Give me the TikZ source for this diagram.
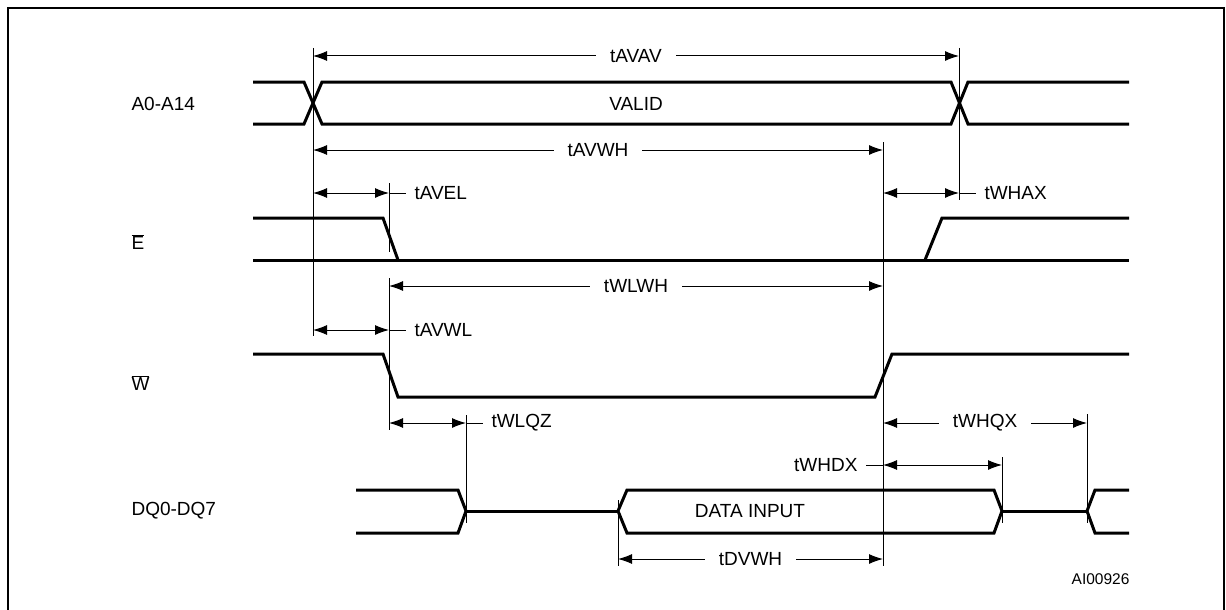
\documentclass[tikz,border=0pt]{standalone}
\usepackage{fontspec}
\setmainfont{Liberation Sans}
\usepackage{tikz}
\usetikzlibrary{arrows.meta}

\begin{document}
\begin{tikzpicture}[x=1pt,y=-1pt,>={Latex[length=14pt,width=10pt]},
                    font=\fontsize{19}{23}\selectfont,
                    sig/.style={line width=3pt},
                    guide/.style={line width=1pt},
                    dim/.style={<->,line width=1pt},
                    lbl/.style={fill=white,inner xsep=14pt,inner ysep=1pt},
                    side/.style={inner xsep=8pt}]

      \useasboundingbox (0,0) rectangle (1226,610);
      \draw[line width=2.5pt] (8,625) -- (8,8) -- (1224,8) -- (1224,625);

      % timing points
      \coordinate (av1) at (313,0);
      \coordinate (av2) at (959,0);
      \coordinate (el) at (389,0);
      \coordinate (wh) at (883,0);
      \coordinate (qz) at (466,0);
      \coordinate (dv) at (618,0);
      \coordinate (dx) at (1002,0);
      \coordinate (qx) at (1087,0);

      % rows of the dimension arrows
      \coordinate (r1) at (0,56);
      \coordinate (r2) at (0,150);
      \coordinate (r3) at (0,193);
      \coordinate (r4) at (0,286);
      \coordinate (r5) at (0,330);
      \coordinate (r6) at (0,423);
      \coordinate (r7) at (0,465);
      \coordinate (r8) at (0,559);

      % guide lines
      \draw[guide] (av1 |- 0,48) -- (av1 |- 0,336);
      \draw[guide] (av2 |- 0,48) -- (av2 |- 0,200);
      \draw[guide] (el |- 0,183) -- (el |- 0,252);
      \draw[guide] (el |- 0,278) -- (el |- 0,430);
      \draw[guide] (wh |- 0,142) -- (wh |- 0,566);
      \draw[guide] (qz |- 0,415) -- (qz |- 0,523);
      \draw[guide] (dx |- 0,457) -- (dx |- 0,523);
      \draw[guide] (qx |- 0,414) -- (qx |- 0,523);
      \draw[guide] (dv |- 0,500) -- (dv |- 0,566);

      % signal names
      \node[anchor=west] (a) at (128,104) {A0-A14};
      \node[anchor=west] (e) at (128,242) {$\overline{\mbox{E}}$};
      \node[anchor=west] (w) at (128,383) {$\overline{\mbox{W}}$};
      \node[anchor=west] (dq) at (128,511) {DQ0-DQ7};

      % waveforms
      \draw[sig] (253,82) -- (304,82) -- (322,124) -- (951,124) -- (968,82) -- (1129,82);
      \draw[sig] (253,124) -- (304,124) -- (322,82) -- (951,82) -- (968,124) -- (1129,124);
      \draw[sig] (253,218) -- (383,218) -- (398,260);
      \draw[sig] (253,260) -- (1129,260);
      \draw[sig] (925,260) -- (942,218) -- (1129,218);
      \draw[sig] (253,354) -- (383,354) -- (398,397) -- (875,397) -- (892,354) -- (1129,354);
      \draw[sig] (356,490) -- (458,490) -- (466,511) -- (458,533) -- (356,533);
      \draw[sig] (466,511) -- (618,511);
      \draw[sig] (618,511) -- (627,490) -- (994,490) -- (1002,511)
                 -- (994,533) -- (627,533) -- cycle;
      \draw[sig] (1002,511) -- (1087,511);
      \draw[sig] (1129,490) -- (1095,490) -- (1087,511) -- (1095,533) -- (1129,533);

      \node (valid) at (636,104) {VALID};
      \node[fill=white,inner ysep=1pt] (din) at (750,511) {DATA INPUT};

      % timings
      \draw[dim] (av1 |- r1) -- node[lbl] (tavav) {tAVAV} (av2 |- r1);
      \draw[dim] (av1 |- r2) -- node[lbl] (tavwh) {tAVWH} (wh |- r2);
      \draw[dim] (av1 |- r3) -- (el |- r3);
      \draw[guide] (el |- r3) -- ++(17,0) node[side,anchor=west] (tavel) {tAVEL};
      \draw[dim] (wh |- r3) -- (av2 |- r3);
      \draw[guide] (av2 |- r3) -- ++(17,0) node[side,anchor=west] (twhax) {tWHAX};
      \draw[dim] (el |- r4) -- node[lbl] (twlwh) {tWLWH} (wh |- r4);
      \draw[dim] (av1 |- r5) -- (el |- r5);
      \draw[guide] (el |- r5) -- ++(17,0) node[side,anchor=west] (tavwl) {tAVWL};
      \draw[dim] (el |- r6) -- (qz |- r6);
      \draw[guide] (qz |- r6) -- ++(17,0) node[side,anchor=west] (twlqz) {tWLQZ};
      \draw[dim] (wh |- r6) -- node[lbl] (twhqx) {tWHQX} (qx |- r6);
      \draw[dim] (wh |- r7) -- (dx |- r7);
      \draw[guide] (wh |- r7) -- ++(-17,0) node[side,anchor=east] (twhdx) {tWHDX};
      \draw[dim] (dv |- r8) -- node[lbl] (tdvwh) {tDVWH} (wh |- r8);

      \node[anchor=east,font=\fontsize{15.5}{18}\selectfont] (ref) at (1133,579) {AI00926};

\end{tikzpicture}
\end{document}
